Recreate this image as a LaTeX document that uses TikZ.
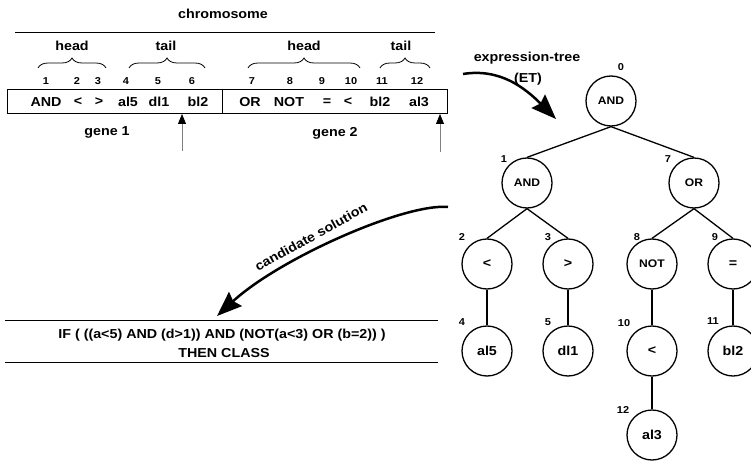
\documentclass[tikz,border=0pt]{standalone}
\usepackage{fontspec}
\setmainfont{Liberation Sans}[FakeStretch=1.1]
\usetikzlibrary{arrows.meta,decorations.pathreplacing}
\begin{document}
\begin{tikzpicture}[x=1pt,y=-1pt,
  txt/.style={font=\fontsize{13}{15}\selectfont\bfseries, inner sep=0pt},
  num/.style={font=\fontsize{10}{11}\selectfont\bfseries, inner sep=0pt},
  tnode/.style={circle,draw,line width=1.3pt,minimum size=50pt,inner sep=0pt,font=\fontsize{13}{15}\selectfont\bfseries},
  small/.style={font=\fontsize{11}{12}\selectfont\bfseries},
  edge/.style={line width=1.3pt},
  brc/.style={decorate,decoration={brace,amplitude=10pt},line width=0.8pt},
  up/.style={draw=gray,line width=0.8pt,-{Triangle[color=black,length=10pt,width=8pt]}},
  bigarrow/.style={line width=2.5pt,-{Stealth[length=25pt,width=19pt,inset=3pt]}},
  rule/.style={line width=0.8pt}
]
\useasboundingbox (0,0) rectangle (751,462);
% chromosome header
\node[txt] (chrom) at (223,14) {chromosome};
\draw[rule] (15,32) -- (435,32);
% braces and labels
\draw[brc] (38,68) -- (106,68);
\draw[brc] (129,68) -- (205,68);
\draw[brc] (248,68) -- (360,68);
\draw[brc] (380,68) -- (430,68);
\node[txt] (h1) at (72,46) {head};
\node[txt] (t1) at (166,46) {tail};
\node[txt] (h2) at (304,46) {head};
\node[txt] (t2) at (401,46) {tail};
% positions
\node[num] (p1) at (46,81) {1};
\node[num] (p2) at (77,81) {2};
\node[num] (p3) at (98,81) {3};
\node[num] (p4) at (126,81) {4};
\node[num] (p5) at (158,81) {5};
\node[num] (p6) at (192,81) {6};
\node[num] (p7) at (252,81) {7};
\node[num] (p8) at (290,81) {8};
\node[num] (p9) at (322,81) {9};
\node[num] (p10) at (351,81) {10};
\node[num] (p11) at (382,81) {11};
\node[num] (p12) at (417,81) {12};
% box
\node[draw,line width=0.8pt,minimum width=440pt,minimum height=24pt,inner sep=0pt] (box) at (227,101) {};
\draw[line width=0.8pt] (222,89) -- (222,113);
\node[txt] (g1) at (46,102) {AND};
\node[txt] (g2) at (78,102) {<};
\node[txt] (g3) at (99,102) {>};
\node[txt] (g4) at (128,102) {al5};
\node[txt] (g5) at (159,102) {dl1};
\node[txt] (g6) at (198,102) {bl2};
\node[txt] (g7) at (250,102) {OR};
\node[txt] (g8) at (289,102) {NOT};
\node[txt] (g9) at (327,102) {=};
\node[txt] (g10) at (348,102) {<};
\node[txt] (g11) at (380,102) {bl2};
\node[txt] (g12) at (419,102) {al3};
\node[txt] (gene1) at (107,132) {gene 1};
\node[txt] (gene2) at (335,133) {gene 2};
% up arrows
\coordinate (u1s) at (182,151);
\coordinate (u1t) at (182,114);
\coordinate (u2s) at (440,152);
\coordinate (u2t) at (440,114);
\draw[up] (u1s) -- (u1t);
\draw[up] (u2s) -- (u2t);
% expression tree arrow
\node[txt] (etl) at (527,58) {expression-tree};
\node[txt] (et2) at (528,79) {(ET)};
\coordinate (e1) at (463,74);
\coordinate (e2) at (556,119);
\draw[bigarrow] (e1) .. controls (500,68) and (525,88) .. (e2);
% tree
\node[tnode,small] (n0) at (611,101) {AND};
\node[tnode,small] (n1) at (527,183) {AND};
\node[tnode,small] (n7) at (694,183) {OR};
\node[tnode] (n2) at (487,264) {<};
\node[tnode] (n3) at (568,264) {>};
\node[tnode,small] (n8) at (652,264) {NOT};
\node[tnode] (n9) at (733,264) {=};
\node[tnode] (n4) at (487,351) {al5};
\node[tnode] (n5) at (568,351) {dl1};
\node[tnode] (n10) at (652,351) {<};
\node[tnode] (n11) at (733,351) {bl2};
\node[tnode] (n12) at (652,435) {al3};
\draw[edge] (n0.south) -- (n1.north);
\draw[edge] (n0.south) -- (n7.north);
\draw[edge] (n1.south) -- (n2.north);
\draw[edge] (n1.south) -- (n3.north);
\draw[edge] (n7.south) -- (n8.north);
\draw[edge] (n7.south) -- (n9.north);
\draw[edge] (n2.south) -- (n4.north);
\draw[edge] (n3.south) -- (n5.north);
\draw[edge] (n8.south) -- (n10.north);
\draw[edge] (n9.south) -- (n11.north);
\draw[edge] (n10.south) -- (n12.north);
\node[num] (l0) at (621,67) {0};
\node[num] (l1) at (504,159) {1};
\node[num] (l7) at (668,159) {7};
\node[num] (l2) at (462,237) {2};
\node[num] (l3) at (548,237) {3};
\node[num] (l8) at (637,237) {8};
\node[num] (l9) at (715,237) {9};
\node[num] (l4) at (462,322) {4};
\node[num] (l5) at (548,322) {5};
\node[num] (l10) at (624,323) {10};
\node[num] (l11) at (713,321) {11};
\node[num] (l12) at (623,410) {12};
% candidate solution arrow
\coordinate (c1) at (448,207);
\coordinate (c2) at (217,316);
\draw[bigarrow] (c1) .. controls (405,203) and (280,258) .. (c2);
\node[txt,rotate=29] (cs) at (311,237) {candidate solution};
% rule
\draw[rule] (5,320) -- (438,320);
\node[txt] (if) at (222,335) {IF ( ((a<5) AND (d>1)) AND (NOT(a<3) OR (b=2)) )};
\node[txt] (then) at (224,353) {THEN CLASS};
\draw[rule] (5,362) -- (438,362);
\end{tikzpicture}
\end{document}
